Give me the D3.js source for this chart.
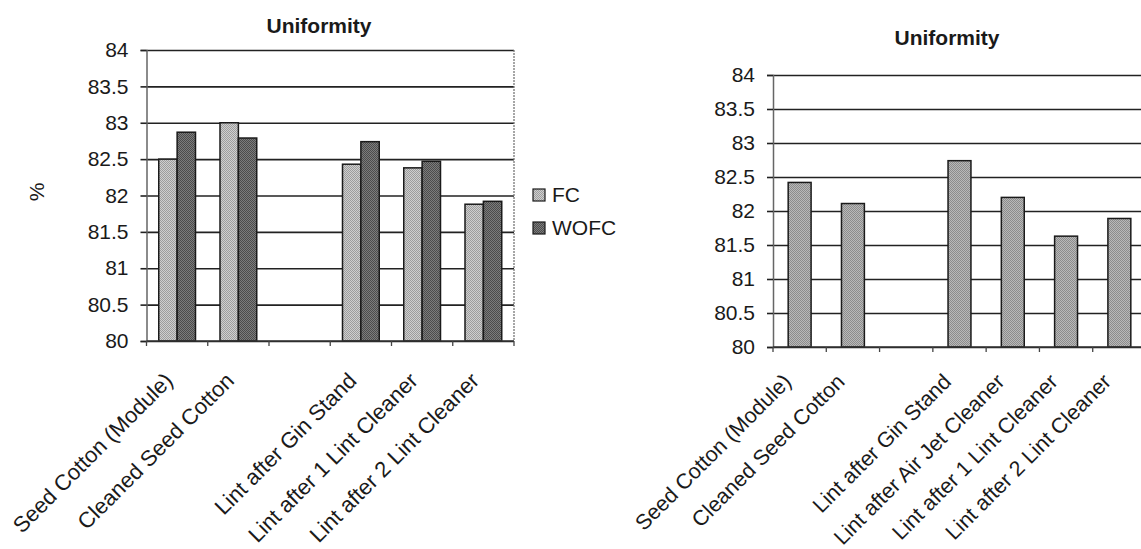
<!DOCTYPE html>
<html>
<head>
<meta charset="utf-8">
<script src="https://cdn.jsdelivr.net/npm/d3@7"></script>
<style>
  body { margin: 0; background: #fff; }
  svg { display: block; font-family: "Liberation Sans", Arial, sans-serif; }
  text { fill: #1a1a1a; }
</style>
</head>
<body>
<div id="chart"></div>
<script>
// data
const leftCategories = ["Seed Cotton (Module)", "Cleaned Seed Cotton", "", "Lint after Gin Stand", "Lint after 1 Lint Cleaner", "Lint after 2 Lint Cleaner"]
const seriesNames = ["FC", "WOFC"]
const fcValues = [82.5, 83.0, null, 82.43, 82.38, 81.88]
const wofcValues = [82.87, 82.79, null, 82.74, 82.47, 81.92]

const rightCategories = ["Seed Cotton (Module)", "Cleaned Seed Cotton", "", "Lint after Gin Stand", "Lint after Air Jet Cleaner", "Lint after 1 Lint Cleaner", "Lint after 2 Lint Cleaner"]
const rightValues = [82.42, 82.11, null, 82.74, 82.2, 81.63, 81.89]

const yTicks = [80, 80.5, 81, 81.5, 82, 82.5, 83, 83.5, 84]
const titleText = "Uniformity"

const svg = d3.select("#chart").append("svg")
    .attr("width", 1141)
    .attr("height", 549)

// stipple textures like the old excel fills
const defs = svg.append("defs")
function stipple(id, light, dark) {
    const p = defs.append("pattern")
        .attr("id", id)
        .attr("width", 2).attr("height", 2)
        .attr("patternUnits", "userSpaceOnUse")
    p.append("rect").attr("width", 2).attr("height", 2).attr("fill", light)
    p.append("rect").attr("width", 1).attr("height", 1).attr("fill", dark)
    p.append("rect").attr("x", 1).attr("y", 1).attr("width", 1).attr("height", 1).attr("fill", dark)
}
stipple("fcFill", "#cfcfcf", "#9d9d9d")
stipple("wofcFill", "#7c7c7c", "#4c4c4c")
stipple("oneFill", "#b9b9b9", "#8c8c8c")

function drawChart(opt) {
    const g = svg.append("g")

    const x = d3.scaleBand()
        .domain(d3.range(opt.categories.length))
        .range([opt.left, opt.right])
        .padding(0)

    const y = d3.scaleLinear()
        .domain([80, 84])
        .range([opt.bottom, opt.top])

    const w = opt.right - opt.left

    // gridlines
    g.append("g")
        .attr("transform", `translate(${opt.left},0)`)
        .call(d3.axisLeft(y).tickValues(yTicks).tickSize(-w).tickFormat(""))
        .call(a => a.select(".domain").remove())
        .call(a => a.selectAll("line").attr("stroke", "#222").attr("stroke-width", 1.6))

    // plot border on the right (dotted)
    if (opt.border) {
        g.append("line")
            .attr("x1", opt.right).attr("x2", opt.right)
            .attr("y1", opt.top).attr("y2", opt.bottom)
            .attr("stroke", "#777").attr("stroke-width", 1.3)
            .attr("stroke-dasharray", "2,1")
    }

    // bars
    const series = opt.series
    const inner = d3.scaleBand()
        .domain(d3.range(series.length))
        .range([x.bandwidth() * opt.pad, x.bandwidth() * (1 - opt.pad)])
        .padding(0)

    series.forEach((s, si) => {
        g.append("g").selectAll("rect")
            .data(s.values.map((v, i) => ({ v, i })).filter(d => d.v != null))
            .join("rect")
            .attr("x", d => x(d.i) + inner(si))
            .attr("y", d => y(d.v))
            .attr("width", inner.bandwidth())
            .attr("height", d => y(80) - y(d.v))
            .attr("fill", `url(#${s.fill})`)
            .attr("stroke", "#1a1a1a")
            .attr("stroke-width", 1.5)
    })

    // y axis
    g.append("g")
        .attr("transform", `translate(${opt.left},0)`)
        .call(d3.axisLeft(y).tickValues(yTicks).tickSize(6).tickPadding(12).tickFormat(d => String(d)))
        .call(a => a.select(".domain").attr("stroke", "#666").attr("stroke-width", 1.5))
        .call(a => a.selectAll("line").attr("stroke", "#222").attr("stroke-width", 1.6))
        .call(a => a.selectAll("text").attr("font-size", 21).attr("fill", "#1a1a1a"))

    // x axis: base line, boundary ticks, slanted labels
    g.append("line")
        .attr("x1", opt.left).attr("x2", opt.right)
        .attr("y1", opt.bottom).attr("y2", opt.bottom)
        .attr("stroke", "#333").attr("stroke-width", 1.6)

    g.append("g").selectAll("line")
        .data(d3.range(opt.categories.length + 1))
        .join("line")
        .attr("x1", i => opt.left + i * x.step())
        .attr("x2", i => opt.left + i * x.step())
        .attr("y1", opt.bottom)
        .attr("y2", opt.bottom + 5)
        .attr("stroke", "#444").attr("stroke-width", 1.3)

    g.append("g")
        .attr("transform", `translate(0,${opt.bottom})`)
        .call(d3.axisBottom(x).tickSize(0).tickFormat(i => opt.categories[i]))
        .call(a => a.select(".domain").remove())
        .call(a => a.selectAll("text")
            .attr("y", 0).attr("dy", 0)
            .attr("font-size", opt.labelSize)
            .attr("fill", "#1a1a1a")
            .attr("text-anchor", "end")
            .attr("transform", `translate(${opt.labelDx},${opt.labelDy}) rotate(-45)`))

    // title
    g.append("text")
        .attr("x", opt.titleX)
        .attr("y", opt.titleY)
        .attr("text-anchor", "middle")
        .attr("font-size", 21)
        .attr("font-weight", "bold")
        .text(titleText)

    return g
}

drawChart({
    categories: leftCategories,
    series: [
        { name: seriesNames[0], values: fcValues, fill: "fcFill" },
        { name: seriesNames[1], values: wofcValues, fill: "wofcFill" }
    ],
    left: 146.5, right: 514, top: 50, bottom: 341,
    pad: 0.2, border: true,
    labelSize: 22, labelDx: -3, labelDy: 41,
    titleX: 319, titleY: 33
})

drawChart({
    categories: rightCategories,
    series: [{ name: "", values: rightValues, fill: "oneFill" }],
    left: 773, right: 1146, top: 75, bottom: 347,
    pad: 0.285, border: false,
    labelSize: 21.5, labelDx: -7, labelDy: 36,
    titleX: 947, titleY: 45
})

// "%" axis label of the left chart
svg.append("text")
    .attr("transform", "translate(44,192) rotate(-90)")
    .attr("text-anchor", "middle")
    .attr("font-size", 21)
    .text("%")

// legend
const legend = svg.append("g").attr("transform", "translate(533,189)")
const legendFills = ["fcFill", "wofcFill"]
legend.selectAll("g")
    .data(seriesNames)
    .join("g")
    .attr("transform", (d, i) => `translate(0,${i * 33})`)
    .call(item => item.append("rect")
        .attr("width", 12).attr("height", 12)
        .attr("fill", (d, i) => `url(#${legendFills[i]})`)
        .attr("stroke", "#1a1a1a").attr("stroke-width", 1.2))
    .call(item => item.append("text")
        .attr("x", 19).attr("y", 13)
        .attr("font-size", 21)
        .text(d => d))
</script>
</body>
</html>
